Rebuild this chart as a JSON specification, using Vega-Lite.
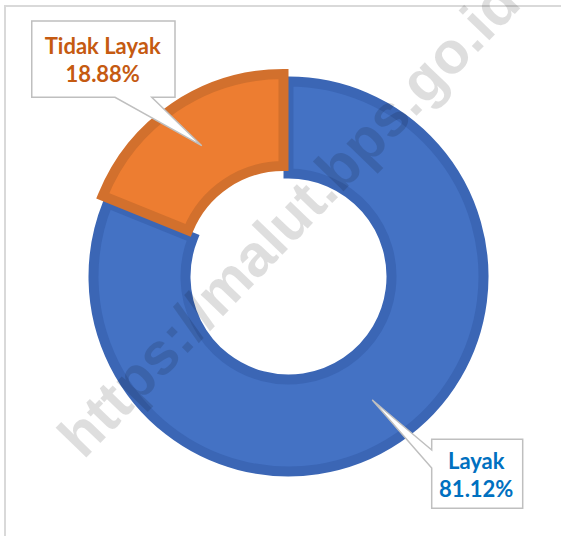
{
  "$schema": "https://vega.github.io/schema/vega-lite/v6.json",
  "width": 567,
  "height": 541,
  "autosize": {"type": "none"},
  "padding": {"left": 5, "top": 6, "right": 0, "bottom": 0},
  "background": "white",
  "config": {"view": {"stroke": "#D9D9D9", "strokeWidth": 2}},
  "data": {"values": [
    {"category": "Layak", "value": 81.12, "pct": "81.12%"},
    {"category": "Tidak Layak", "value": 18.88, "pct": "18.88%"}
  ]},
  "layer": [
    {
      "mark": {"type": "arc", "outerRadius": 195, "innerRadius": 103, "strokeWidth": 10, "strokeJoin": "miter"},
      "encoding": {
        "theta": {"field": "value", "type": "quantitative", "stack": true},
        "order": {"field": "value", "type": "quantitative", "sort": "descending"},
        "color": {"field": "category", "type": "nominal", "scale": {"domain": ["Layak", "Tidak Layak"], "range": ["#4472C4", "#ED7D31"]}, "legend": null},
        "stroke": {"field": "category", "type": "nominal", "scale": {"domain": ["Layak", "Tidak Layak"], "range": ["#3B66B5", "#D2702D"]}, "legend": null},
        "opacity": {"condition": {"test": "datum.category === 'Tidak Layak'", "value": 0}, "value": 1}
      }
    },
    {
      "mark": {"type": "arc", "outerRadius": 195, "innerRadius": 103, "strokeWidth": 10, "strokeJoin": "miter", "xOffset": -5, "yOffset": -7.5},
      "encoding": {
        "theta": {"field": "value", "type": "quantitative", "stack": true},
        "order": {"field": "value", "type": "quantitative", "sort": "descending"},
        "color": {"field": "category", "type": "nominal", "legend": null},
        "stroke": {"field": "category", "type": "nominal", "legend": null},
        "opacity": {"condition": {"test": "datum.category === 'Tidak Layak'", "value": 1}, "value": 0}
      }
    },
    {
      "mark": {"type": "point", "filled": true, "fill": "white", "stroke": "#BFBFBF", "strokeWidth": 1.5, "size": 4, "opacity": 1},
      "encoding": {
        "x": {"field": "category", "type": "nominal", "scale": {"type": "point", "domain": ["Tidak Layak", "Layak"], "padding": 0.25904}, "axis": null},
        "y": {"field": "category", "type": "nominal", "scale": {"type": "point", "domain": ["Tidak Layak", "Layak"], "padding": 0.15181}, "axis": null},
        "shape": {"field": "category", "type": "nominal", "scale": {"domain": ["Tidak Layak", "Layak"], "range": [
          "M-70,-48H73.25V28.3H50L100,76.7L13.25,28.3H-70Z",
          "M-43.55,-44.7H47.45V24.3H-43.55V-16L-102.95,-84L-43.55,-34Z"
        ]}, "legend": null}
      }
    },
    {
      "mark": {"type": "text", "font": "Lato", "fontWeight": "bold", "fontSize": 22, "align": "center", "baseline": "alphabetic", "dx": 1, "dy": -15},
      "encoding": {
        "x": {"field": "category", "type": "nominal"},
        "y": {"field": "category", "type": "nominal"},
        "text": {"field": "category", "type": "nominal"},
        "fill": {"field": "category", "type": "nominal", "scale": {"domain": ["Tidak Layak", "Layak"], "range": ["#C55A11", "#0070C0"]}, "legend": null}
      }
    },
    {
      "mark": {"type": "text", "font": "Lato", "fontWeight": "bold", "fontSize": 22, "align": "center", "baseline": "alphabetic", "dx": 1, "dy": 13},
      "encoding": {
        "x": {"field": "category", "type": "nominal"},
        "y": {"field": "category", "type": "nominal"},
        "text": {"field": "pct", "type": "nominal"},
        "fill": {"field": "category", "type": "nominal", "legend": null}
      }
    },
    {
      "data": {"values": [{"site": "https://malut.bps.go.id"}]},
      "mark": {"type": "text", "font": "Liberation Sans", "fontWeight": "bold", "fontSize": 59, "angle": -46, "align": "center", "baseline": "alphabetic", "dx": 41.5, "dy": -19.5, "fill": "#000000", "fillOpacity": 0.13},
      "encoding": {
        "text": {"field": "site", "type": "nominal"}
      }
    }
  ]
}
